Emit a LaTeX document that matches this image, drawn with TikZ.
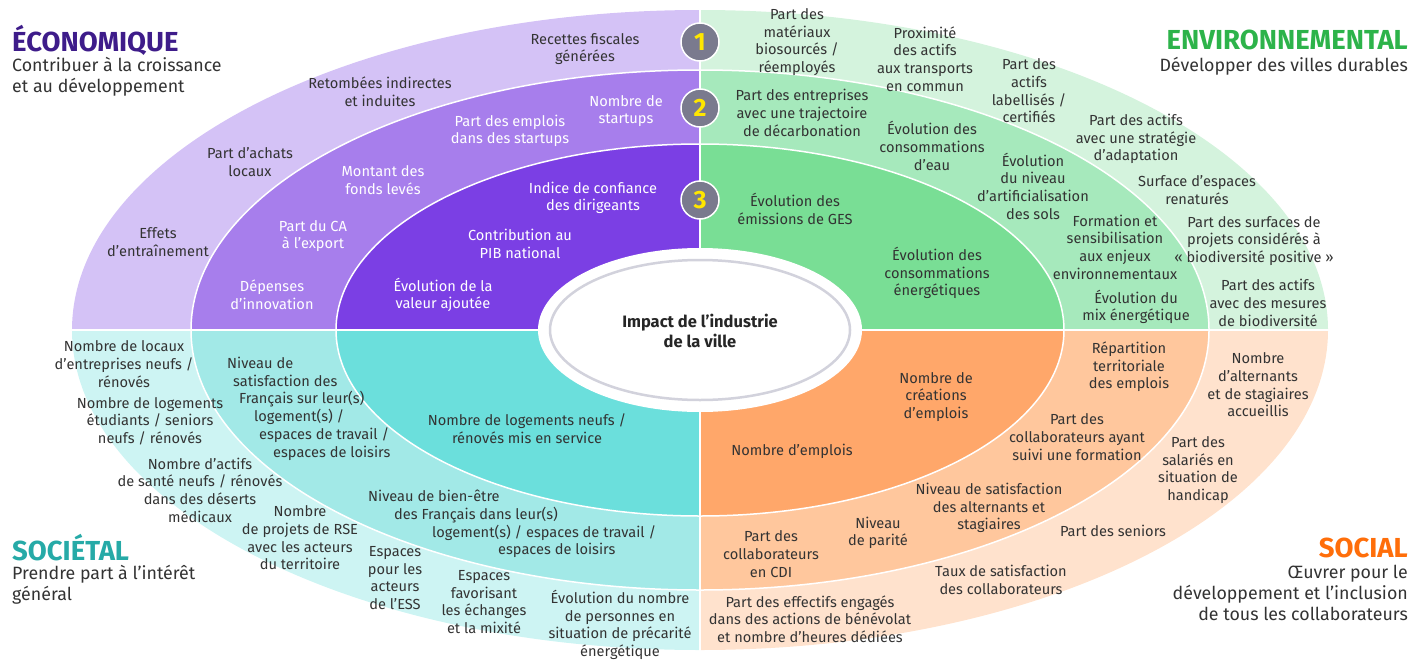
\documentclass[tikz,border=0pt]{standalone}
\usepackage{fontspec}
\setmainfont{Fira Sans}
\setsansfont{Fira Sans}
\definecolor{ecoO}{HTML}{D4C2F6}\definecolor{ecoM}{HTML}{A77EEC}\definecolor{ecoI}{HTML}{7B3FE4}
\definecolor{envO}{HTML}{D4F3DD}\definecolor{envM}{HTML}{A6E9BC}\definecolor{envI}{HTML}{79DE95}
\definecolor{socO}{HTML}{CDF4F3}\definecolor{socM}{HTML}{A2E9E7}\definecolor{socI}{HTML}{6BDFDC}
\definecolor{sclO}{HTML}{FFE2CD}\definecolor{sclM}{HTML}{FFC79D}\definecolor{sclI}{HTML}{FFA76A}
\definecolor{ecoT}{HTML}{3E1C8A}\definecolor{envT}{HTML}{2DB34A}\definecolor{socT}{HTML}{26AAA7}\definecolor{sclT}{HTML}{FF6E0A}
\definecolor{txt}{HTML}{333333}\definecolor{numfill}{HTML}{7A7A8E}\definecolor{numtxt}{HTML}{FFE600}\definecolor{ringgray}{HTML}{D2D2DC}
\tikzset{
  lbl/.style={font=\fontsize{14.6}{17.7}\selectfont, align=center, text=txt, inner sep=0pt},
  wlbl/.style={lbl, text=white},
  ttl/.style={font=\fontsize{27.5}{30}\selectfont\bfseries, inner sep=0pt},
  sub/.style={font=\fontsize{17.8}{21}\selectfont, text=txt, inner sep=0pt},
  num/.style={circle, fill=numfill, draw=white, line width=1.5pt, minimum size=38pt, inner sep=0pt, text=numtxt, font=\fontsize{25}{25}\selectfont\bfseries},
}
\begin{document}
\begin{tikzpicture}[x=1pt,y=-1pt]
\useasboundingbox (0,0) rectangle (1412,661);
\coordinate (C) at (700,330);
% quadrants
\begin{scope}\clip (0,0) rectangle (700,330);
 \fill[ecoO] (C) ellipse [x radius=628pt, y radius=320pt];
 \fill[ecoM] (C) ellipse [x radius=509pt, y radius=260pt];
 \fill[ecoI] (C) ellipse [x radius=364pt, y radius=186pt];
\end{scope}
\begin{scope}\clip (700,0) rectangle (1412,330);
 \fill[envO] (C) ellipse [x radius=628pt, y radius=320pt];
 \fill[envM] (C) ellipse [x radius=509pt, y radius=260pt];
 \fill[envI] (C) ellipse [x radius=364pt, y radius=186pt];
\end{scope}
\begin{scope}\clip (0,330) rectangle (700,661);
 \fill[socO] (C) ellipse [x radius=628pt, y radius=320pt];
 \fill[socM] (C) ellipse [x radius=509pt, y radius=260pt];
 \fill[socI] (C) ellipse [x radius=364pt, y radius=186pt];
\end{scope}
\begin{scope}\clip (700,330) rectangle (1412,661);
 \fill[sclO] (C) ellipse [x radius=628pt, y radius=320pt];
 \fill[sclM] (C) ellipse [x radius=509pt, y radius=260pt];
 \fill[sclI] (C) ellipse [x radius=364pt, y radius=186pt];
\end{scope}
\draw[white, line width=1.5pt] (C) ellipse [x radius=509pt, y radius=260pt];
\draw[white, line width=1.5pt] (C) ellipse [x radius=364pt, y radius=186pt];
\draw[white, line width=2.5pt] (700,5) -- (700,656);
\draw[white, line width=2.5pt] (60,330) -- (1340,330);
% centre
\fill[white] (C) ellipse [x radius=162pt, y radius=82pt];
\draw[ringgray, line width=2.5pt] (C) ellipse [x radius=150pt, y radius=70pt];
\node[font=\fontsize{16.5}{19.5}\selectfont\bfseries, align=center, text=black!85, inner sep=0pt] (centre) at (700,331) {Impact de l’industrie\\de la ville};
% numbers
\node[num] (n1) at (700,42) {1};
\node[num] (n2) at (700,108) {2};
\node[num] (n3) at (700,200) {3};
% titles
\node[ttl, text=ecoT, anchor=west] (teco) at (12,40) {ÉCONOMIQUE};
\node[sub, anchor=north west, align=left] (seco) at (12,57) {Contribuer à la croissance\\et au développement};
\node[ttl, text=envT, anchor=east] (tenv) at (1408,40) {ENVIRONNEMENTAL};
\node[sub, anchor=north east, align=right] (senv) at (1408,57) {Développer des villes durables};
\node[ttl, text=socT, anchor=west] (tsoc) at (12,548) {SOCIÉTAL};
\node[sub, anchor=north west, align=left] (ssoc) at (12,565) {Prendre part à l’intérêt\\général};
\node[ttl, text=sclT, anchor=east] (tscl) at (1408,548) {SOCIAL};
\node[sub, anchor=north east, align=right] (sscl) at (1408,565) {Œuvrer pour le\\développement et l’inclusion\\de tous les collaborateurs};
% economique
\node[lbl] (e1) at (585,49) {Recettes fiscales\\générées};
\node[lbl] (e2) at (380,92) {Retombées indirectes\\et induites};
\node[lbl] (e3) at (250,162) {Part d’achats\\locaux};
\node[lbl] (e4) at (158,242) {Effets\\d’entraînement};
\node[wlbl] (e5) at (626,111) {Nombre de\\startups};
\node[wlbl] (e6) at (510,131) {Part des emplois\\dans des startups};
\node[wlbl] (e7) at (383,180) {Montant des\\fonds levés};
\node[wlbl] (e8) at (313,236) {Part du CA\\à l’export};
\node[wlbl] (e9) at (272,295) {Dépenses\\d’innovation};
\node[wlbl] (e10) at (593,198) {Indice de confiance\\des dirigeants};
\node[wlbl] (e11) at (520,244) {Contribution au\\PIB national};
\node[wlbl] (e12) at (443,295) {Évolution de la\\valeur ajoutée};
% environnemental
\node[lbl] (v1) at (797,42) {Part des\\matériaux\\biosourcés /\\réemployés};
\node[lbl] (v2) at (925,59) {Proximité\\des actifs\\aux transports\\en commun};
\node[lbl] (v3) at (1029,91) {Part des\\actifs\\labellisés /\\certifiés};
\node[lbl] (v4) at (1136,139) {Part des actifs\\avec une stratégie\\d’adaptation};
\node[lbl] (v5) at (1197,190) {Surface d’espaces\\renaturés};
\node[lbl] (v6) at (1254,241) {Part des surfaces de\\projets considérés à\\« biodiversité positive »};
\node[lbl] (v7) at (1268,303) {Part des actifs\\avec des mesures\\de biodiversité};
\node[lbl] (v8) at (802,113) {Part des entreprises\\avec une trajectoire\\de décarbonation};
\node[lbl] (v9) at (932,146) {Évolution des\\consommations\\d’eau};
\node[lbl] (v10) at (1033,186) {Évolution\\du niveau\\d’artificialisation\\des sols};
\node[lbl] (v11) at (1115,247) {Formation et\\sensibilisation\\aux enjeux\\environnementaux};
\node[lbl] (v12) at (1136,307) {Évolution du\\mix énergétique};
\node[lbl] (v13) at (795,209) {Évolution des\\émissions de GES};
\node[lbl] (v14) at (937,273) {Évolution des\\consommations\\énergétiques};
% societal
\node[lbl] (s1) at (124,364) {Nombre de locaux\\d’entreprises neufs /\\rénovés};
\node[lbl] (s2) at (150,421) {Nombre de logements\\étudiants / seniors\\neufs / rénovés};
\node[lbl] (s3) at (200,490) {Nombre d’actifs\\de santé neufs / rénovés\\dans des déserts\\médicaux};
\node[lbl] (s4) at (300,538) {Nombre\\de projets de RSE\\avec les acteurs\\du territoire};
\node[lbl] (s5) at (395,578) {Espaces\\pour les\\acteurs\\de l’ESS};
\node[lbl] (s6) at (484,602) {Espaces\\favorisant\\les échanges\\et la mixité};
\node[lbl] (s7) at (620,625) {Évolution du nombre\\de personnes en\\situation de précarité\\énergétique};
\node[lbl, align=left, anchor=north west] (s8) at (227,357) {Niveau de\\\hspace*{6pt}satisfaction des\\\hspace*{12pt}Français sur leur(s)\\\hspace*{27pt}logement(s) /\\\hspace*{32pt}espaces de travail /\\\hspace*{46pt}espaces de loisirs};
\node[lbl, align=left, anchor=north west] (s9) at (368,490) {Niveau de bien-être\\\hspace*{26pt}des Français dans leur(s)\\\hspace*{64pt}logement(s) / espaces de travail /\\\hspace*{130pt}espaces de loisirs};
\node[lbl] (s10) at (527,429) {Nombre de logements neufs /\\rénovés mis en service};
% social
\node[lbl] (o1) at (936,397) {Nombre de\\créations\\d’emplois};
\node[lbl] (o2) at (792,451) {Nombre d’emplois};
\node[lbl] (o3) at (1129,367) {Répartition\\territoriale\\des emplois};
\node[lbl] (o4) at (1077,437) {Part des\\collaborateurs ayant\\suivi une formation};
\node[lbl] (o5) at (989,508) {Niveau de satisfaction\\des alternants et\\stagiaires};
\node[lbl] (o6) at (878,533) {Niveau\\de parité};
\node[lbl] (o7) at (771,554) {Part des\\collaborateurs\\en CDI};
\node[lbl] (o8) at (1258,385) {Nombre\\d’alternants\\et de stagiaires\\accueillis};
\node[lbl] (o9) at (1198,470) {Part des\\salariés en\\situation de\\handicap};
\node[lbl] (o10) at (1113,531) {Part des seniors};
\node[lbl] (o11) at (1001,580) {Taux de satisfaction\\des collaborateurs};
\node[lbl] (o12) at (810,619) {Part des effectifs engagés\\dans des actions de bénévolat\\et nombre d’heures dédiées};
\end{tikzpicture}
\end{document}
